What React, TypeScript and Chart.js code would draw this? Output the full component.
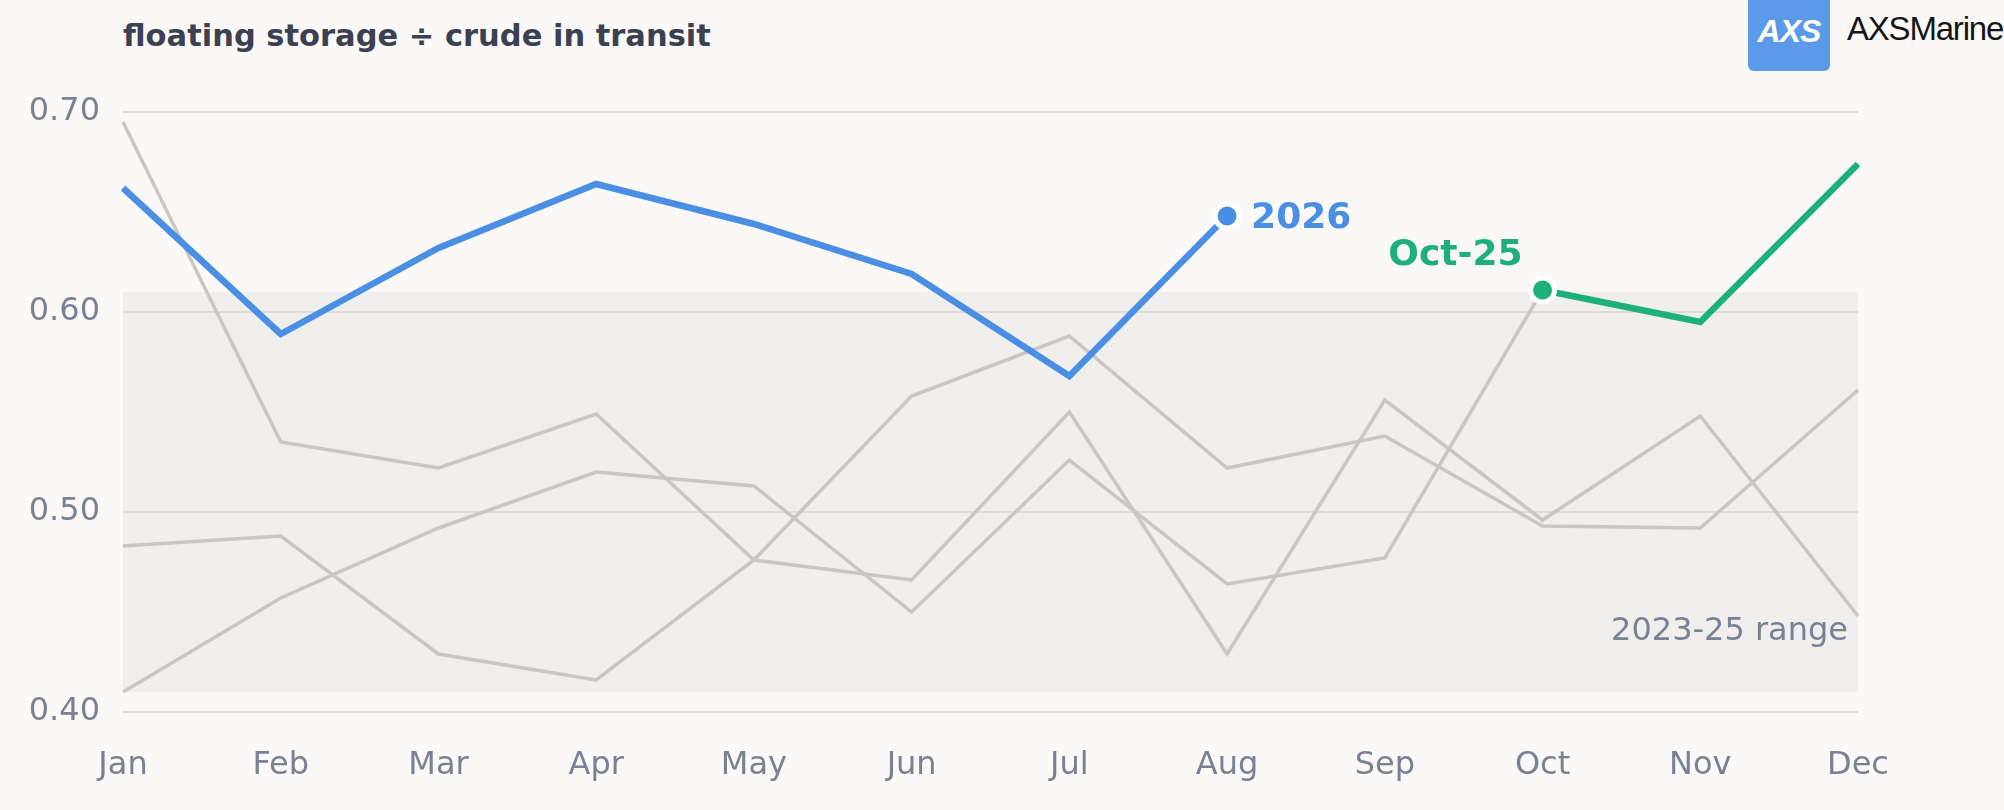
import { useEffect, useRef } from 'react';
import { Chart, registerables } from 'chart.js';

Chart.register(...registerables);

const months = ['Jan', 'Feb', 'Mar', 'Apr', 'May', 'Jun', 'Jul', 'Aug', 'Sep', 'Oct', 'Nov', 'Dec'];

// current year (2026) and the Oct-25 onwards tail
const y2026 = [0.662, 0.589, 0.632, 0.664, 0.644, 0.619, 0.568, 0.648, null, null, null, null];
const oct25 = [null, null, null, null, null, null, null, null, null, 0.611, 0.595, 0.674];

// history lines, shown in grey
const histA = [0.695, 0.535, 0.522, 0.549, 0.476, 0.466, 0.55, 0.429, 0.556, 0.496, 0.548, 0.448];
const histB = [0.483, 0.488, 0.429, 0.416, 0.476, 0.558, 0.588, 0.522, 0.538, 0.493, 0.492, 0.561];
const histC = [0.41, 0.457, 0.492, 0.52, 0.513, 0.45, 0.526, 0.464, 0.477, 0.611, null, null];

// 2023-25 range band
const bandLow = [0.41, 0.41, 0.41, 0.41, 0.41, 0.41, 0.41, 0.41, 0.41, 0.41, 0.41, 0.41];
const bandHigh = [0.61, 0.61, 0.61, 0.61, 0.61, 0.61, 0.61, 0.61, 0.61, 0.61, 0.61, 0.61];

const yTicks = [0.4, 0.5, 0.6, 0.7];

const BLUE = '#4a8fe3';
const GREEN = '#1db07a';
const GREY = '#c8c7c5';
const TEXT = '#7a8192';
const FONT = '"DejaVu Sans", sans-serif';

const labelPlugin = {
  id: 'seriesLabels',
  afterDatasetsDraw(chart: any) {
    const { ctx, chartArea, scales } = chart;
    ctx.save();

    // 2026 label next to its last point
    const blue = chart.getDatasetMeta(0).data[7];
    ctx.font = `bold 36px ${FONT}`;
    ctx.fillStyle = BLUE;
    ctx.textAlign = 'left';
    ctx.textBaseline = 'middle';
    ctx.fillText('2026', blue.x + 24, blue.y + 3);

    // Oct-25 label above-left of its first point
    const green = chart.getDatasetMeta(1).data[9];
    ctx.fillStyle = GREEN;
    ctx.textAlign = 'right';
    ctx.fillText('Oct-25', green.x - 20, green.y - 34);

    // band caption
    ctx.font = `32px ${FONT}`;
    ctx.fillStyle = TEXT;
    ctx.textAlign = 'right';
    ctx.fillText('2023-25 range', chartArea.right - 10, scales.y.getPixelForValue(bandLow[0]) - 60);
    ctx.restore();
  },
};

export default function App() {
  const chartRef = useRef<HTMLCanvasElement>(null);
  const chartInstance = useRef<Chart | null>(null);

  useEffect(() => {
    document.body.style.margin = '0';
    document.body.style.background = '#faf9f8';
    if (!chartRef.current) return;
    if (chartInstance.current) chartInstance.current.destroy();

    const grey = (data: (number | null)[]) => ({
      data,
      borderColor: GREY,
      borderWidth: 3.5,
      pointRadius: 0,
      fill: false,
      borderJoinStyle: 'miter' as const,
    });

    chartInstance.current = new Chart(chartRef.current, {
      type: 'line',
      data: {
        labels: months,
        datasets: [
          {
            data: y2026,
            borderColor: BLUE,
            borderWidth: 6.5,
            borderJoinStyle: 'miter',
            pointRadius: (c: any) => (c.dataIndex === 7 ? 12 : 0),
            pointBackgroundColor: BLUE,
            pointBorderColor: '#ffffff',
            pointBorderWidth: 5,
            fill: false,
          },
          {
            data: oct25,
            borderColor: GREEN,
            borderWidth: 6.5,
            borderJoinStyle: 'miter',
            pointRadius: (c: any) => (c.dataIndex === 9 ? 12 : 0),
            pointBackgroundColor: GREEN,
            pointBorderColor: '#ffffff',
            pointBorderWidth: 5,
            fill: false,
          },
          grey(histA),
          grey(histB),
          grey(histC),
          {
            data: bandHigh,
            borderWidth: 0,
            pointRadius: 0,
            backgroundColor: '#f0efed',
            fill: '+1',
          },
          {
            data: bandLow,
            borderWidth: 0,
            pointRadius: 0,
            fill: false,
          },
        ],
      },
      options: {
        responsive: false,
        animation: false,
        devicePixelRatio: 1,
        layout: { padding: { top: 112, right: 146, left: 0, bottom: 0 } },
        plugins: {
          legend: { display: false },
          tooltip: { enabled: false },
          filler: { drawTime: 'beforeDraw' },
        },
        scales: {
          x: {
            offset: false,
            grid: { display: false },
            border: { display: false },
            ticks: { color: TEXT, font: { family: FONT, size: 32 }, padding: 26, maxRotation: 0 },
            afterFit: (s: any) => {
              s.height = 98;
            },
          },
          y: {
            min: 0.4,
            max: 0.7,
            afterBuildTicks: (s: any) => {
              s.ticks = yTicks.map((v) => ({ value: v }));
            },
            grid: { color: '#dedcda', lineWidth: 2, drawTicks: false },
            border: { display: false },
            ticks: {
              color: TEXT,
              font: { family: FONT, size: 32 },
              padding: 23,
              callback: (v: any) => Number(v).toFixed(2),
            },
            afterFit: (s: any) => {
              s.width = 123;
            },
          },
        },
      },
      plugins: [labelPlugin],
    });

    return () => {
      if (chartInstance.current) {
        chartInstance.current.destroy();
        chartInstance.current = null;
      }
    };
  }, []);

  return (
    <div style={{ position: 'relative', width: 2004, height: 810, background: '#faf9f8', overflow: 'hidden' }}>
      <div
        style={{
          position: 'absolute',
          left: 123,
          top: 18,
          font: `bold 30.5px ${FONT}`,
          color: '#3b4150',
          whiteSpace: 'nowrap',
        }}
      >
        floating storage ÷ crude in transit
      </div>
      <div
        style={{
          position: 'absolute',
          left: 1748,
          top: 0,
          width: 82,
          height: 71,
          background: '#5b9ae8',
          borderRadius: '0 0 6px 6px',
          color: '#ffffff',
          font: 'bold 32px "Liberation Sans", Arial, sans-serif',
          fontStyle: 'oblique 8deg',
          textAlign: 'center',
          lineHeight: '62px',
          letterSpacing: '-1px',
        }}
      >
        AXS
      </div>
      <div
        style={{
          position: 'absolute',
          left: 1847,
          top: 10,
          font: '33px "Liberation Sans", Arial, sans-serif',
          color: '#151515',
          letterSpacing: '-1.2px',
          whiteSpace: 'nowrap',
        }}
      >
        AXSMarine
      </div>
      <canvas ref={chartRef} width={2004} height={810} style={{ position: 'absolute', left: 0, top: 0 }} />
    </div>
  );
}
